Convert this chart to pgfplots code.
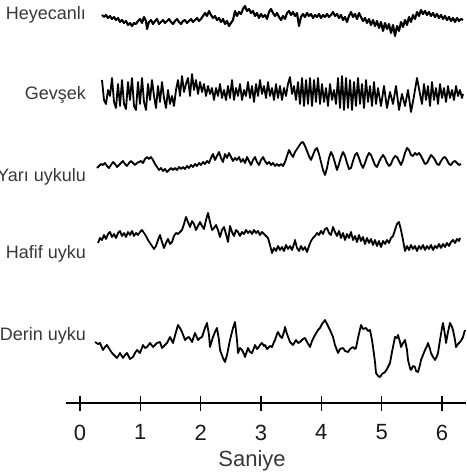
\documentclass[border=0pt]{standalone}
\usepackage{pgfplots}
\pgfplotsset{compat=1.18}
\usepackage{fontspec}
\setmainfont{Liberation Sans}
\definecolor{labgray}{HTML}{383838}
\begin{document}
\begin{tikzpicture}
\begin{axis}[
    scale only axis,
    width=400pt, height=403pt,
    xmin=66, xmax=466, ymin=-403, ymax=0,
    clip=false,
    axis x line=bottom,
    axis y line=none,
    x axis line style={-, line width=1.6pt},
    xtick={80,140.33,200.67,261,321.33,381.67,442},
    xticklabels={0,1,2,3,4,5,6},
    tick align=center,
    major tick length=15pt,
    x tick style={line width=1.6pt, black},
    xticklabel style={font=\fontsize{22}{26}\selectfont, text=black!90, inner sep=0pt, anchor=north, yshift=-14pt},
    every axis plot/.append style={black, line join=round, mark=none},
]
% Heyecanli
\addplot[line width=2.1pt] coordinates {
(102,-15)(104,-17)(106,-15)(108,-18)(110,-16)(112,-19)(114,-17)(116,-20)(118,-18)(120,-22)
(122,-20)(124,-23)(126,-21)(128,-25)(130,-23)(132,-26)(134,-23)(136,-24)(138,-21)(140,-19)
(142,-23)(144,-17)(146,-21)(147,-29)(149,-22)(151,-20)(153,-24)(155,-21)(157,-19)(159,-24)
(161,-22)(163,-20)(165,-23)(167,-21)(169,-19)(171,-22)(173,-24)(175,-21)(177,-19)(179,-22)
(181,-24)(183,-21)(185,-20)(187,-23)(189,-21)(191,-19)(193,-22)(195,-20)(197,-18)(199,-21)
(201,-19)(203,-16)(205,-13)(207,-16)(209,-11)(211,-15)(213,-18)(215,-16)(217,-20)(219,-18)
(221,-22)(223,-19)(225,-24)(227,-21)(229,-26)(231,-23)(233,-20)(235,-11)(237,-16)(239,-12)
(241,-14)(243,-9)(245,-6)(247,-11)(249,-9)(251,-13)(253,-11)(255,-16)(257,-13)(259,-18)
(261,-14)(263,-17)(265,-15)(267,-19)(269,-12)(271,-9)(273,-13)(275,-16)(277,-13)(279,-17)
(281,-20)(283,-16)(285,-19)(287,-13)(289,-11)(291,-15)(293,-12)(295,-16)(297,-13)(299,-26)
(301,-17)(303,-14)(305,-17)(307,-13)(309,-16)(311,-14)(313,-18)(315,-15)(317,-17)(319,-14)
(321,-18)(323,-15)(325,-17)(327,-14)(329,-17)(331,-15)(333,-12)(335,-16)(337,-14)(339,-18)
(341,-15)(343,-20)(345,-17)(347,-22)(349,-16)(351,-12)(353,-17)(355,-14)(357,-19)(359,-13)
(361,-17)(363,-21)(365,-18)(367,-23)(369,-19)(371,-25)(373,-20)(375,-26)(377,-21)(379,-28)
(381,-22)(383,-31)(385,-23)(387,-29)(389,-24)(391,-33)(393,-25)(395,-36)(397,-26)(399,-31)
(401,-22)(403,-27)(405,-20)(407,-25)(409,-17)(411,-22)(413,-15)(415,-19)(417,-12)(419,-16)
(421,-10)(423,-14)(425,-11)(427,-15)(429,-12)(431,-16)(433,-13)(435,-17)(437,-14)(439,-18)
(441,-15)(443,-19)(445,-16)(447,-20)(449,-17)(451,-21)(453,-18)(455,-22)(457,-18)(459,-21)
(461,-19)(463,-20)
};
% Gevsek
\addplot[line width=1.8pt] coordinates {
(102,-80)(104,-100)(106,-104)(108,-90)(110,-96)(112,-78)(114,-102)(116,-108)(118,-84)(120,-106)
(122,-80)(124,-104)(126,-109)(128,-82)(130,-100)(132,-78)(134,-106)(136,-110)(138,-82)(140,-104)
(142,-78)(144,-102)(146,-110)(148,-84)(150,-100)(152,-80)(154,-96)(156,-108)(158,-86)(160,-102)
(162,-82)(164,-98)(166,-108)(168,-90)(170,-104)(172,-96)(174,-106)(176,-90)(178,-80)(180,-96)
(182,-76)(184,-92)(186,-84)(188,-78)(190,-96)(192,-74)(194,-90)(196,-80)(198,-94)(200,-82)
(202,-92)(204,-84)(206,-96)(208,-86)(210,-94)(212,-88)(214,-100)(216,-88)(218,-96)(220,-84)
(222,-98)(224,-90)(226,-100)(228,-86)(230,-98)(232,-80)(234,-100)(236,-88)(238,-96)(240,-84)
(242,-100)(244,-90)(246,-96)(248,-82)(250,-98)(252,-86)(254,-102)(256,-84)(258,-96)(260,-80)
(262,-94)(264,-86)(266,-98)(268,-82)(270,-96)(272,-88)(274,-100)(276,-84)(278,-98)(280,-86)
(282,-100)(284,-88)(286,-96)(288,-84)(290,-77)(292,-94)(294,-86)(296,-100)(298,-82)(300,-104)
(302,-78)(304,-106)(306,-80)(308,-104)(310,-78)(312,-106)(314,-80)(316,-102)(318,-78)(320,-104)
(322,-84)(324,-102)(326,-88)(328,-106)(330,-84)(332,-100)(334,-90)(336,-104)(338,-78)(340,-108)
(342,-76)(344,-110)(346,-78)(348,-108)(350,-80)(352,-110)(354,-82)(356,-106)(358,-78)(360,-104)
(362,-84)(364,-108)(366,-80)(368,-102)(370,-86)(372,-106)(374,-82)(376,-104)(378,-88)(381,-106)
(384,-86)(387,-108)(390,-92)(393,-104)(396,-86)(399,-110)(402,-94)(405,-106)(408,-90)(411,-112)
(414,-96)(417,-78)(420,-94)(422,-104)(424,-84)(426,-100)(428,-86)(430,-106)(432,-82)(434,-100)
(436,-88)(438,-104)(440,-84)(442,-98)(444,-88)(446,-102)(448,-86)(450,-98)(452,-90)(454,-100)
(456,-86)(458,-96)(460,-90)(462,-98)(463,-94)
};
% Yari uykulu
\addplot[line width=1.8pt] coordinates {
(97,-168)(99,-166)(101,-164)(103,-165)(105,-163)(107,-166)(109,-168)(111,-165)(113,-162)(115,-164)
(117,-167)(119,-165)(121,-163)(123,-161)(125,-164)(127,-166)(129,-163)(131,-161)(133,-163)(135,-165)
(137,-163)(139,-162)(141,-161)(143,-163)(145,-159)(147,-157)(149,-159)(151,-157)(153,-160)(155,-164)
(157,-167)(159,-170)(161,-168)(163,-171)(165,-169)(167,-172)(169,-170)(171,-168)(173,-170)(175,-168)
(177,-170)(179,-167)(181,-169)(183,-167)(185,-169)(187,-166)(189,-168)(191,-165)(193,-167)(195,-164)
(197,-166)(199,-163)(201,-165)(203,-162)(205,-164)(207,-161)(209,-163)(211,-158)(213,-154)(215,-160)
(217,-156)(219,-152)(221,-158)(223,-162)(225,-154)(227,-158)(229,-153)(231,-157)(233,-161)(235,-158)
(237,-160)(239,-157)(241,-162)(243,-159)(245,-163)(247,-157)(249,-161)(251,-165)(253,-160)(255,-157)
(257,-162)(259,-165)(261,-160)(263,-157)(265,-161)(267,-164)(269,-162)(271,-165)(273,-163)(275,-166)
(277,-164)(279,-166)(281,-164)(283,-166)(285,-162)(287,-156)(289,-150)(291,-154)(293,-157)(295,-152)
(297,-149)(299,-146)(301,-143)(303,-142)(305,-146)(307,-151)(309,-156)(311,-160)(313,-155)(315,-150)
(317,-148)(319,-154)(321,-162)(323,-170)(325,-175)(327,-168)(329,-158)(331,-152)(333,-156)(335,-163)
(337,-170)(339,-164)(341,-157)(343,-152)(345,-156)(347,-163)(349,-169)(351,-168)(353,-161)(355,-155)
(357,-153)(359,-158)(361,-164)(363,-168)(365,-163)(367,-157)(369,-153)(371,-155)(373,-160)(375,-165)
(377,-167)(379,-162)(381,-158)(383,-155)(385,-158)(387,-163)(389,-166)(391,-164)(393,-159)(395,-156)
(397,-157)(399,-161)(401,-165)(403,-160)(405,-153)(407,-148)(409,-150)(411,-155)(413,-156)(415,-153)
(417,-155)(419,-153)(421,-156)(423,-160)(425,-164)(427,-163)(429,-159)(431,-155)(433,-157)(435,-160)
(437,-164)(439,-165)(441,-161)(443,-158)(445,-157)(447,-160)(449,-164)(451,-165)(453,-162)(455,-161)
(457,-163)(459,-165)(461,-164)
};
% Hafif uyku
\addplot[line width=1.8pt] coordinates {
(98,-243)(100,-238)(102,-240)(104,-235)(106,-239)(108,-234)(110,-232)(112,-237)(114,-234)(116,-238)
(118,-233)(120,-231)(122,-236)(124,-233)(126,-237)(128,-232)(130,-235)(132,-231)(134,-236)(136,-233)
(138,-235)(140,-232)(142,-230)(144,-233)(146,-236)(148,-240)(150,-243)(152,-246)(154,-249)(156,-246)
(158,-240)(160,-235)(162,-242)(164,-248)(166,-243)(168,-239)(170,-244)(172,-242)(174,-236)(176,-233)
(178,-234)(180,-232)(182,-230)(184,-224)(186,-217)(188,-222)(190,-227)(192,-221)(194,-224)(196,-230)
(198,-226)(200,-222)(202,-226)(204,-229)(206,-220)(208,-213)(210,-222)(212,-230)(214,-228)(216,-225)
(218,-230)(220,-237)(222,-230)(224,-227)(226,-234)(228,-242)(230,-226)(232,-232)(234,-236)(236,-230)
(238,-232)(240,-236)(242,-232)(244,-234)(246,-230)(248,-233)(250,-231)(252,-234)(254,-230)(256,-233)
(258,-231)(260,-235)(262,-232)(264,-234)(266,-236)(268,-238)(270,-245)(272,-253)(274,-248)(276,-251)
(278,-246)(280,-250)(282,-247)(284,-251)(286,-245)(288,-249)(290,-246)(292,-250)(294,-244)(295,-240)
(297,-248)(299,-251)(301,-246)(303,-250)(305,-247)(307,-252)(309,-246)(311,-241)(313,-238)(315,-236)
(317,-233)(319,-235)(321,-231)(323,-234)(325,-229)(327,-228)(329,-233)(331,-235)(333,-227)(335,-232)
(337,-236)(339,-231)(341,-238)(343,-233)(345,-240)(347,-234)(349,-238)(351,-232)(353,-240)(355,-236)
(357,-242)(359,-235)(361,-241)(363,-237)(365,-244)(367,-238)(369,-243)(371,-239)(373,-245)(375,-240)
(377,-246)(379,-241)(381,-247)(383,-241)(385,-244)(387,-240)(389,-243)(391,-238)(393,-236)(395,-230)
(397,-224)(399,-222)(401,-230)(403,-240)(405,-251)(407,-246)(409,-250)(411,-245)(413,-249)(415,-246)
(417,-251)(419,-246)(421,-249)(423,-245)(425,-250)(427,-246)(429,-249)(431,-245)(433,-250)(435,-246)
(437,-248)(439,-244)(441,-248)(443,-244)(445,-247)(447,-243)(449,-246)(451,-242)(453,-240)(455,-243)
(457,-239)(459,-241)(460,-238)
};
% Derin uyku
\addplot[line width=1.8pt] coordinates {
(95,-342)(98,-344)(100,-343)(103,-350)(105,-347)(107,-345)(110,-350)(112,-353)(115,-356)(117,-358)
(120,-353)(123,-358)(125,-355)(127,-353)(130,-359)(133,-357)(135,-353)(137,-350)(140,-353)(143,-345)
(145,-348)(147,-347)(150,-343)(153,-347)(155,-345)(157,-343)(160,-342)(162,-348)(165,-345)(167,-343)
(170,-337)(173,-343)(176,-332)(178,-325)(180,-328)(182,-332)(185,-340)(187,-338)(189,-337)(192,-342)
(195,-333)(198,-340)(200,-338)(202,-337)(205,-328)(207,-323)(209,-335)(210,-347)(213,-337)(215,-332)
(217,-328)(219,-340)(220,-350)(223,-358)(225,-362)(227,-355)(230,-340)(233,-328)(235,-322)(237,-340)
(238,-353)(240,-348)(242,-350)(244,-354)(245,-357)(247,-351)(248,-348)(250,-352)(252,-353)(254,-348)
(255,-345)(257,-349)(258,-348)(260,-345)(262,-343)(264,-346)(265,-345)(267,-349)(268,-348)(270,-346)
(272,-347)(274,-342)(275,-340)(277,-334)(278,-332)(280,-336)(282,-338)(284,-332)(285,-327)(287,-334)
(290,-342)(293,-345)(296,-340)(298,-343)(300,-342)(303,-339)(305,-338)(307,-342)(310,-347)(312,-341)
(315,-335)(318,-330)(320,-328)(322,-324)(325,-320)(327,-324)(330,-330)(333,-337)(335,-345)(338,-353)
(340,-349)(343,-348)(345,-351)(348,-352)(350,-349)(353,-347)(355,-349)(356,-348)(358,-338)(361,-325)
(363,-329)(366,-328)(368,-331)(370,-330)(372,-340)(373,-347)(375,-362)(376,-373)(378,-376)(380,-377)
(382,-374)(385,-372)(387,-369)(390,-363)(392,-352)(395,-337)(397,-338)(398,-335)(400,-342)(401,-347)
(403,-343)(405,-340)(407,-350)(408,-360)(410,-368)(411,-370)(413,-366)(415,-367)(416,-371)(418,-372)
(420,-365)(421,-360)(423,-355)(425,-350)(427,-346)(428,-343)(430,-349)(431,-353)(433,-357)(435,-360)
(437,-356)(438,-353)(440,-340)(442,-328)(443,-323)(445,-335)(446,-343)(448,-332)(450,-323)(452,-327)
(453,-330)(455,-340)(456,-347)(458,-344)(460,-342)(462,-339)(463,-337)(465,-330)
};
\node[anchor=east, inner sep=0pt, text=labgray, font=\fontsize{18}{21}\selectfont] at (axis cs:86,-15) {Heyecanlı};
\node[anchor=east, inner sep=0pt, text=labgray, font=\fontsize{18}{21}\selectfont] at (axis cs:86,-95) {Gevşek};
\node[anchor=east, inner sep=0pt, text=labgray, font=\fontsize{18}{21}\selectfont] at (axis cs:86,-177) {Yarı uykulu};
\node[anchor=east, inner sep=0pt, text=labgray, font=\fontsize{18}{21}\selectfont] at (axis cs:86,-254) {Hafif uyku};
\node[anchor=east, inner sep=0pt, text=labgray, font=\fontsize{18}{21}\selectfont] at (axis cs:86,-336) {Derin uyku};
\node[inner sep=0pt, text=labgray, font=\fontsize{22}{26}\selectfont] at (axis cs:252,-461) {Saniye};
\end{axis}
\pgfresetboundingbox
\useasboundingbox (-66pt,-71pt) rectangle (400pt,403pt);
\end{tikzpicture}
\end{document}
